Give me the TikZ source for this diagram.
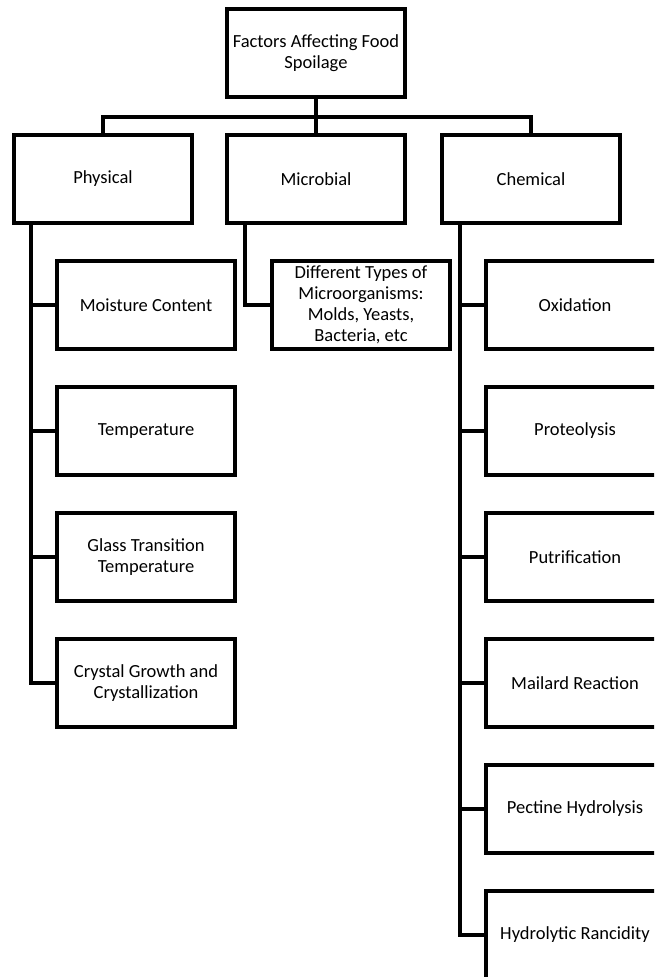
\documentclass[tikz,border=0pt]{standalone}
\usepackage{fontspec}
\setmainfont{Carlito}
\usepackage{tikz}

\begin{document}
\begin{tikzpicture}[x=1pt,y=-1pt,
  box/.style={shape=rectangle,draw=black,line width=3.4pt,minimum width=178pt,minimum height=88pt,inner sep=0pt,align=center,font=\fontsize{18.5}{21}\selectfont},
  wire/.style={draw=black,line width=3.4pt,line join=miter}]
\useasboundingbox (0,0) rectangle (654,977);
\clip (0,0) rectangle (654,977);
% top levels
\node[box] (root) at (316,53) {Factors Affecting Food\\Spoilage};
\node[box] (phys) at (103,179) {Physical};
\node[box] (micro) at (316,179) {Microbial};
\node[box] (chem) at (531,179) {Chemical};
\coordinate (bus) at (316,117);
\path [wire] (root) -- (bus);
\path [wire] (phys.north) |- (bus);
\path [wire] (chem.north) |- (bus);
\path [wire] (micro.north) -- (bus);
% physical
\node[box] (moist) at (146,305) {Moisture Content};
\node[box] (temp) at (146,431) {Temperature};
\node[box] (glass) at (146,557) {Glass Transition\\Temperature};
\node[box] (cryst) at (146,683) {Crystal Growth and\\Crystallization};
\coordinate (ptrunk) at (31,223);
\path [wire] (ptrunk) |- (cryst.west);
\path [wire] (ptrunk |- moist.west) -- (moist.west);
\path [wire] (ptrunk |- temp.west) -- (temp.west);
\path [wire] (ptrunk |- glass.west) -- (glass.west);
% microbial
\node[box] (types) at (361,305) {Different Types of\\Microorganisms:\\Molds, Yeasts,\\Bacteria, etc};
\coordinate (mtrunk) at (245,223);
\path [wire] (mtrunk) |- (types.west);
% chemical
\node[box] (oxid) at (575,305) {Oxidation};
\node[box] (prot) at (575,431) {Proteolysis};
\node[box] (putr) at (575,557) {Putrification};
\node[box] (mail) at (575,683) {Mailard Reaction};
\node[box] (pect) at (575,809) {Pectine Hydrolysis};
\node[box] (hydr) at (575,935) {Hydrolytic Rancidity};
\coordinate (ctrunk) at (460,223);
\path [wire] (ctrunk) |- (hydr.west);
\path [wire] (ctrunk |- oxid.west) -- (oxid.west);
\path [wire] (ctrunk |- prot.west) -- (prot.west);
\path [wire] (ctrunk |- putr.west) -- (putr.west);
\path [wire] (ctrunk |- mail.west) -- (mail.west);
\path [wire] (ctrunk |- pect.west) -- (pect.west);
\end{tikzpicture}
\end{document}
